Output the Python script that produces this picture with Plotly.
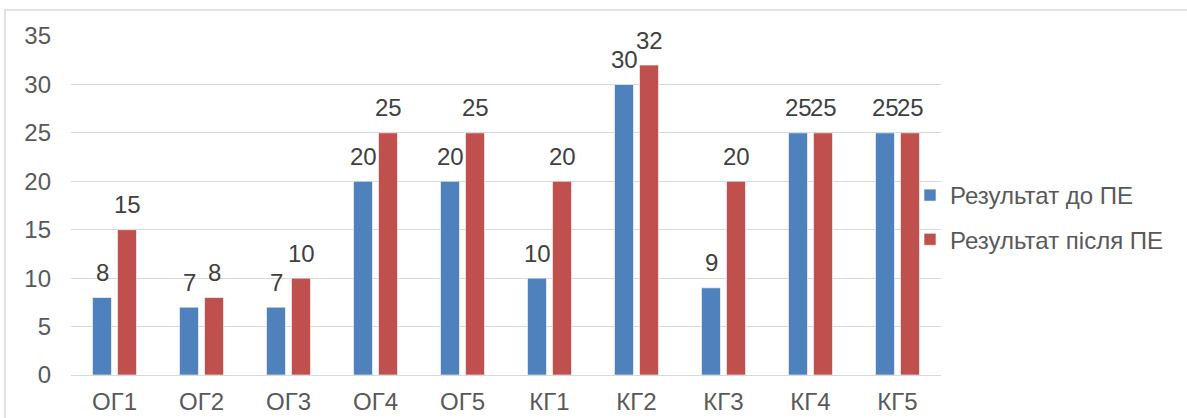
import plotly.graph_objects as go

categories = ["ОГ1", "ОГ2", "ОГ3", "ОГ4", "ОГ5", "КГ1", "КГ2", "КГ3", "КГ4", "КГ5"]
before_pe = [8, 7, 7, 20, 20, 10, 30, 9, 25, 25]
after_pe = [15, 8, 10, 25, 25, 20, 32, 20, 25, 25]
series_names = ["Результат до ПЕ", "Результат після ПЕ"]
y_ticks = [0, 5, 10, 15, 20, 25, 30, 35]

FONT = "Liberation Sans, Arial, sans-serif"
FS = 24

fig = go.Figure()
annotations = []
for name, vals, color, grp, xs in [
    (series_names[0], before_pe, "#4F81BD", "a", -12.5),
    (series_names[1], after_pe, "#C0504D", "b", 12.5),
]:
    fig.add_trace(go.Bar(
        x=categories, y=vals, name=name, legendgroup=grp,
        marker=dict(color=color, line=dict(color="rgba(255,255,255,0.6)", width=1)),
    ))
    for c, v in zip(categories, vals):
        annotations.append(dict(x=c, y=v, xref="x", yref="y", text=str(v), showarrow=False,
                                xanchor="center", yanchor="middle", xshift=xs, yshift=25,
                                font=dict(family=FONT, size=FS, color="#404040")))

L, R, T, B = 71, 246, 36, 43
W, H = 1187, 418
pw, ph = W - L - R, H - T - B

fig.update_layout(
    width=W, height=H,
    margin=dict(l=L, r=R, t=T, b=B, autoexpand=False),
    paper_bgcolor="white", plot_bgcolor="white",
    barmode="group", bargap=0.425, bargroupgap=0.24,
    font=dict(family=FONT, size=FS, color="#595959"),
    xaxis=dict(showgrid=False, showline=False, ticks="", ticklabelstandoff=10, automargin=False,
               tickfont=dict(size=FS, color="#595959")),
    yaxis=dict(range=[0, 35], tickvals=y_ticks, showgrid=True, gridcolor="#D9D9D9", gridwidth=1,
               zeroline=True, zerolinecolor="#D9D9D9", zerolinewidth=1, showline=False, ticks="",
               ticklen=0, ticklabelstandoff=19, automargin=False,
               tickfont=dict(size=FS, color="#595959")),
    showlegend=True,
    legend=dict(x=(910 - L) / pw, xanchor="left", y=(H - B - 173) / ph, yanchor="top",
                bgcolor="rgba(0,0,0,0)", font=dict(size=FS, color="#595959"),
                tracegroupgap=10, traceorder="grouped"),
    annotations=annotations,
    shapes=[dict(type="rect", xref="paper", yref="paper",
                 x0=(5 - L) / pw, x1=(W + 20 - L) / pw,
                 y0=(H - B - (H + 20)) / ph, y1=(H - B - 10) / ph,
                 line=dict(color="#D9D9D9", width=1.5), fillcolor="rgba(0,0,0,0)", layer="below")],
)
fig.write_html("out.html", config={"displayModeBar": False},
               post_script="document.body.style.margin='0';document.body.style.overflow='hidden';")
